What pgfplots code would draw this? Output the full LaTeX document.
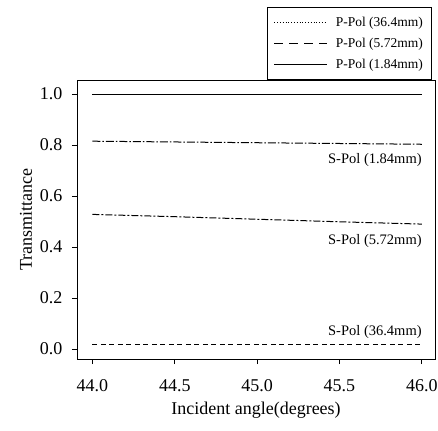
\documentclass[border=0pt]{standalone}
\usepackage{fontspec}
\setmainfont{Liberation Serif}
\usepackage{pgfplots}
\pgfplotsset{compat=1.18}

\begin{document}
\begin{tikzpicture}
\useasboundingbox (-77pt,-71pt) rectangle (361pt,359pt);
\begin{axis}[
  scale only axis,
  width=358pt, height=279pt,
  xmin=43.906, xmax=46.08,
  ymin=-0.039, ymax=1.055,
  xtick={44,44.5,45,45.5,46},
  ytick={0,0.2,0.4,0.6,0.8,1.0},
  /pgf/number format/fixed,
  /pgf/number format/fixed zerofill,
  /pgf/number format/precision=1,
  /pgf/number format/assume math mode=true,
  tick align=outside,
  major tick length=5pt,
  tick style={black, line width=0.7pt},
  axis line style={line width=0.9pt},
  xtick pos=bottom, ytick pos=left,
  tick label style={font=\fontsize{18}{20}\selectfont},
  xticklabel style={yshift=-12pt},
  yticklabel style={xshift=-6pt},
  label style={font=\fontsize{18}{20}\selectfont},
  xlabel={Incident angle(degrees)},
  ylabel={Transmittance},
  xlabel style={at={(axis description cs:0.5,-0.183)}, anchor=center},
  ylabel style={at={(axis description cs:-0.1425,0.5)}, anchor=center},
  legend style={at={(axis description cs:0.992,1)}, anchor=south east,
    font=\fontsize{13.5}{15}\selectfont, draw=black, line width=0.7pt,
    row sep=6pt, column sep=6pt, inner xsep=7pt, inner ysep=8pt},
  legend cell align=left,
  legend image code/.code={\draw[#1] (0pt,0pt) -- (53pt,0pt);},
]
% P-Pol
\addplot[black, line width=0.8pt, dotted] coordinates {(44.0,1.000)(45.0,1.000)(46.0,1.000)};
\addplot[black, line width=0.8pt, dash pattern=on 9pt off 6pt] coordinates {(44.0,0.999)(45.0,0.999)(46.0,0.999)};
\addplot[black, line width=0.9pt] coordinates {(44.0,0.998)(45.0,0.998)(46.0,0.998)};
\legend{P-Pol (36.4mm), P-Pol (5.72mm), P-Pol (1.84mm)}
% S-Pol
\addplot[black, line width=1pt, dash pattern=on 8pt off 2pt on 1.5pt off 2pt, forget plot]
  coordinates {(44.0,0.815)(44.5,0.812)(45.0,0.809)(45.5,0.806)(46.0,0.803)};
\addplot[black, line width=1pt, dash pattern=on 7pt off 2pt on 2pt off 2pt, forget plot]
  coordinates {(44.0,0.528)(44.5,0.519)(45.0,0.509)(45.5,0.499)(46.0,0.490)};
\addplot[black, line width=0.9pt, dash pattern=on 5pt off 3.5pt, forget plot]
  coordinates {(44.0,0.018)(45.0,0.018)(46.0,0.018)};
\node[anchor=east, font=\fontsize{14.5}{16}\selectfont, inner sep=0pt] at (axis cs:46.0,0.741) {S-Pol (1.84mm)};
\node[anchor=east, font=\fontsize{14.5}{16}\selectfont, inner sep=0pt] at (axis cs:46.0,0.424) {S-Pol (5.72mm)};
\node[anchor=east, font=\fontsize{14.5}{16}\selectfont, inner sep=0pt] at (axis cs:46.0,0.067) {S-Pol (36.4mm)};
\end{axis}
\end{tikzpicture}
\end{document}
